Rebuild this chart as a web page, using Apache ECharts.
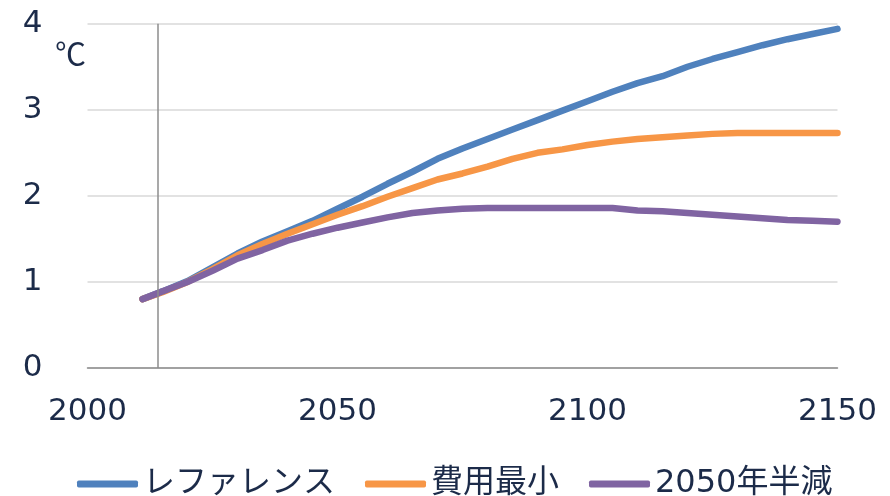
<!DOCTYPE html>
<html>
<head>
<meta charset="utf-8">
<script src="https://cdn.jsdelivr.net/npm/echarts@6/dist/echarts.min.js"></script>
<style>
  html, body { margin: 0; padding: 0; background: #ffffff; }
  #chart { width: 890px; height: 496px; }
</style>
</head>
<body>
<div id="chart"></div>
<script>
// Projected temperature rise (℃) under three scenarios
const years = [2011, 2015, 2020, 2025, 2030, 2035, 2040, 2045, 2050, 2055, 2060, 2065,
  2070, 2075, 2080, 2085, 2090, 2095, 2100, 2105, 2110, 2115, 2120, 2125, 2130, 2135,
  2140, 2145, 2150];

const reference = [0.80, 0.89, 1.01, 1.17, 1.33, 1.47, 1.59, 1.71, 1.85, 1.99, 2.14, 2.28,
  2.43, 2.55, 2.66, 2.77, 2.88, 2.99, 3.10, 3.21, 3.31, 3.39, 3.50, 3.59, 3.67, 3.75,
  3.82, 3.88, 3.94];

const costMin = [0.80, 0.88, 1.00, 1.15, 1.31, 1.44, 1.56, 1.67, 1.78, 1.88, 1.99, 2.09,
  2.19, 2.26, 2.34, 2.43, 2.50, 2.54, 2.59, 2.63, 2.66, 2.68, 2.70, 2.72, 2.73, 2.73,
  2.73, 2.73, 2.73];

const halve2050 = [0.80, 0.89, 1.00, 1.13, 1.27, 1.37, 1.48, 1.56, 1.63, 1.69, 1.75, 1.80,
  1.83, 1.85, 1.86, 1.86, 1.86, 1.86, 1.86, 1.86, 1.83, 1.82, 1.80, 1.78, 1.76, 1.74,
  1.72, 1.71, 1.70];

const seriesNames = ['レファレンス', '費用最小', '2050年半減'];
const xTicks = { min: 2000, max: 2150, step: 50 };
const yTicks = { min: 0, max: 4, step: 1 };
const baseYear = 2014;
const unitLabel = '℃';

const textColor = '#1c2b49';
const numFont = '"DejaVu Sans", Verdana, sans-serif';
const jpFont = '"DejaVu Sans", "Noto Sans CJK JP", sans-serif';

function pairs(values) {
  return years.map((y, i) => [y, values[i]]);
}

const lineStyleFor = (color) => ({ color: color, width: 6.5, cap: 'round', join: 'round' });

const chart = echarts.init(document.getElementById('chart'), null, { renderer: 'canvas' });

chart.setOption({
  animation: false,
  backgroundColor: '#ffffff',
  color: ['#4f81bd', '#f79646', '#8064a2'],
  grid: { left: 87.5, right: 52.5, top: 23.7, bottom: 128 },
  xAxis: {
    type: 'value',
    min: xTicks.min,
    max: xTicks.max,
    interval: xTicks.step,
    axisLine: { show: true, lineStyle: { color: '#8c8c8c', width: 1.5 } },
    axisTick: { show: false },
    splitLine: { show: false },
    axisLabel: {
      color: textColor,
      fontFamily: numFont,
      fontSize: 31,
      margin: 28,
      formatter: (v) => String(v)
    }
  },
  yAxis: {
    type: 'value',
    min: yTicks.min,
    max: yTicks.max,
    interval: yTicks.step,
    axisLine: { show: false },
    axisTick: { show: false },
    splitLine: { show: true, lineStyle: { color: '#d9d9d9', width: 1.5 } },
    axisLabel: {
      color: textColor,
      fontFamily: numFont,
      fontSize: 31,
      margin: 45
    }
  },
  legend: {
    data: seriesNames,
    left: 72,
    top: 463,
    itemWidth: 61,
    itemHeight: 7,
    itemGap: 30,
    icon: 'roundRect',
    textStyle: { color: textColor, fontFamily: jpFont, fontSize: 32 }
  },
  graphic: [{
    type: 'text',
    left: 55,
    top: 38,
    style: {
      text: unitLabel,
      fill: textColor,
      font: '31px "Noto Sans CJK JP", sans-serif'
    }
  }],
  series: [
    {
      name: seriesNames[0],
      type: 'line',
      data: pairs(reference),
      showSymbol: false,
      lineStyle: lineStyleFor('#4f81bd'),
      z: 2,
      markLine: {
        silent: true,
        symbol: 'none',
        label: { show: false },
        lineStyle: { color: '#8c8c8c', width: 1.5, type: 'solid' },
        data: [[{ coord: [baseYear, yTicks.min] }, { coord: [baseYear, yTicks.max] }]]
      }
    },
    {
      name: seriesNames[1],
      type: 'line',
      data: pairs(costMin),
      showSymbol: false,
      lineStyle: lineStyleFor('#f79646'),
      z: 3
    },
    {
      name: seriesNames[2],
      type: 'line',
      data: pairs(halve2050),
      showSymbol: false,
      lineStyle: lineStyleFor('#8064a2'),
      z: 4
    }
  ]
});
</script>
</body>
</html>
